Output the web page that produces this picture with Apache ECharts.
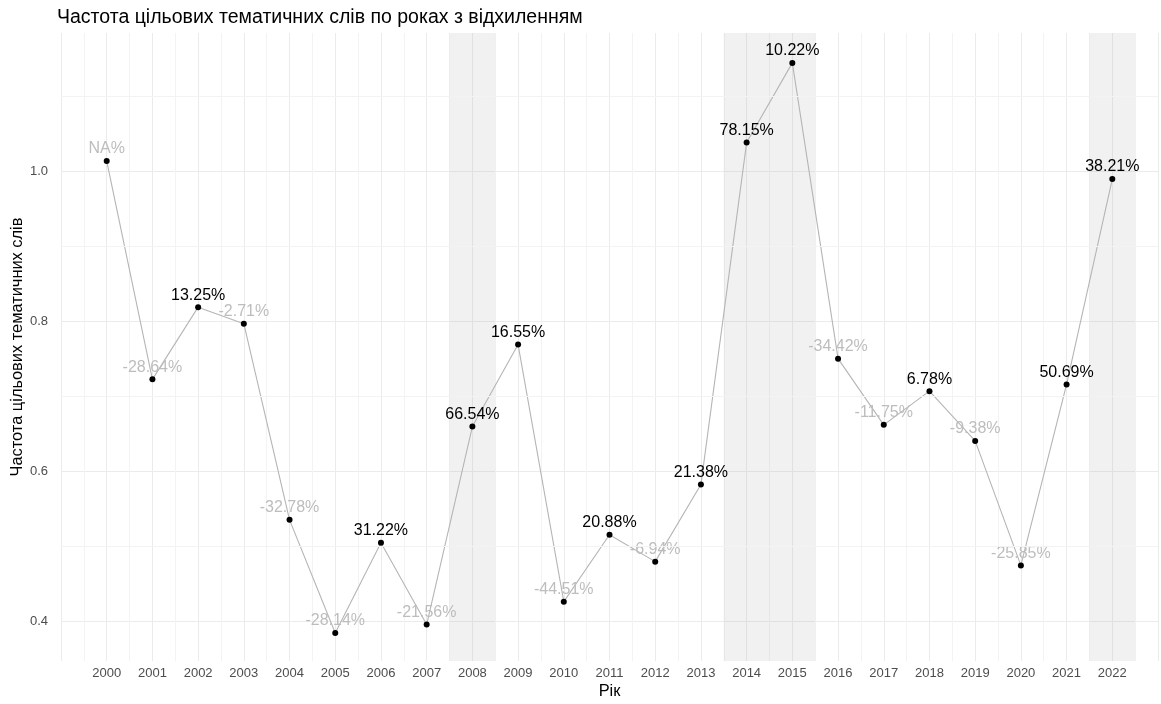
<!DOCTYPE html>
<html>
<head>
<meta charset="utf-8">
<title>Частота цільових тематичних слів</title>
<script src="https://cdn.jsdelivr.net/npm/echarts@6/dist/echarts.min.js"></script>
<style>
  html, body { margin: 0; padding: 0; background: #fff; }
  #chart { width: 1161px; height: 704px; }
</style>
</head>
<body>
<div id="chart"></div>
<script>
// 年份
const years = [2000, 2001, 2002, 2003, 2004, 2005, 2006, 2007, 2008, 2009, 2010,
  2011, 2012, 2013, 2014, 2015, 2016, 2017, 2018, 2019, 2020, 2021, 2022]
// 每年的频率
const freqValues = [1.0133, 0.7227, 0.8188, 0.7968, 0.5356, 0.3849, 0.5051, 0.3962,
  0.6598, 0.7690, 0.4267, 0.5158, 0.4800, 0.5826, 1.0379, 1.1440, 0.7502, 0.6621,
  0.7070, 0.6407, 0.4750, 0.7159, 0.9894]
// 相对上一年的变化
const pctLabels = ['NA%', '-28.64%', '13.25%', '-2.71%', '-32.78%', '-28.14%', '31.22%',
  '-21.56%', '66.54%', '16.55%', '-44.51%', '20.88%', '-6.94%', '21.38%', '78.15%',
  '10.22%', '-34.42%', '-11.75%', '6.78%', '-9.38%', '-25.85%', '50.69%', '38.21%']
// 灰色背景的年份段
const highlightRanges = [[2008, 2008], [2014, 2015], [2022, 2022]]
// y轴次网格线
const yMinorGrid = [0.5, 0.7, 0.9, 1.1]

const gridColor = '#ebebeb'
const fontFamily = '"Liberation Sans", Arial, sans-serif'

let myChart = echarts.init(document.getElementById('chart'), null, { renderer: 'canvas' })

const seriesData = years.map((year, index) => {
  const txt = pctLabels[index]
  const isUp = !(txt.startsWith('-') || txt.startsWith('NA'))
  return {
    value: [year, freqValues[index]],
    label: { color: isUp ? '#000000' : '#bdbdbd' }
  }
})

var option = {
  animation: false,
  textStyle: { fontFamily: fontFamily },
  title: {
    text: 'Частота цільових тематичних слів по роках з відхиленням',
    left: 57,
    top: 8,
    padding: 0,
    textStyle: { fontSize: 19.5, fontWeight: 'normal', color: '#000', fontFamily: fontFamily }
  },
  grid: { left: 61, right: 3, top: 33, bottom: 43, containLabel: false, outerBoundsMode: 'none' },
  xAxis: {
    type: 'value',
    min: 1999,
    max: 2023,
    interval: 1,
    name: 'Рік',
    nameLocation: 'middle',
    nameGap: 22,
    nameMoveOverlap: false,
    nameTextStyle: { fontSize: 16.4, color: '#000', fontFamily: fontFamily },
    axisLine: { show: false },
    axisTick: { show: false },
    axisLabel: {
      showMinLabel: false,
      showMaxLabel: false,
      color: '#4d4d4d',
      fontSize: 13,
      margin: 6,
      formatter: v => String(v)
    },
    splitLine: { show: true, lineStyle: { color: gridColor, width: 1 } },
    minorTick: { show: false, splitNumber: 2 },
    minorSplitLine: { show: true, lineStyle: { color: '#f3f3f3', width: 1 } }
  },
  yAxis: {
    type: 'value',
    min: 0.3477,
    max: 1.1838,
    splitNumber: 4,
    name: 'Частота цільових тематичних слів',
    nameLocation: 'middle',
    nameRotate: 90,
    nameGap: 36,
    nameMoveOverlap: false,
    nameTextStyle: { fontSize: 16.4, color: '#000', fontFamily: fontFamily },
    axisLine: { show: false },
    axisTick: { show: false },
    axisLabel: {
      showMinLabel: false,
      showMaxLabel: false,
      color: '#4d4d4d',
      fontSize: 13,
      margin: 13,
      formatter: v => v.toFixed(1)
    },
    splitLine: {
      show: true,
      showMinLine: false,
      showMaxLine: false,
      lineStyle: { color: gridColor, width: 1 }
    }
  },
  series: [{
    type: 'line',
    data: seriesData,
    symbol: 'circle',
    symbolSize: 6,
    itemStyle: { color: '#000' },
    lineStyle: { color: '#b5b5b5', width: 1.1 },
    label: {
      show: true,
      position: 'top',
      distance: 1,
      fontSize: 16,
      fontFamily: fontFamily,
      formatter: p => pctLabels[p.dataIndex]
    },
    markArea: {
      silent: true,
      itemStyle: { color: 'rgba(160, 160, 160, 0.15)' },
      data: highlightRanges.map(r => [{ xAxis: r[0] - 0.5 }, { xAxis: r[1] + 0.5 }])
    },
    markLine: {
      silent: true,
      symbol: 'none',
      label: { show: false },
      lineStyle: { color: '#f3f3f3', width: 1, type: 'solid' },
      data: yMinorGrid.map(v => ({ yAxis: v }))
    }
  }]
}
myChart.setOption(option)
</script>
</body>
</html>
